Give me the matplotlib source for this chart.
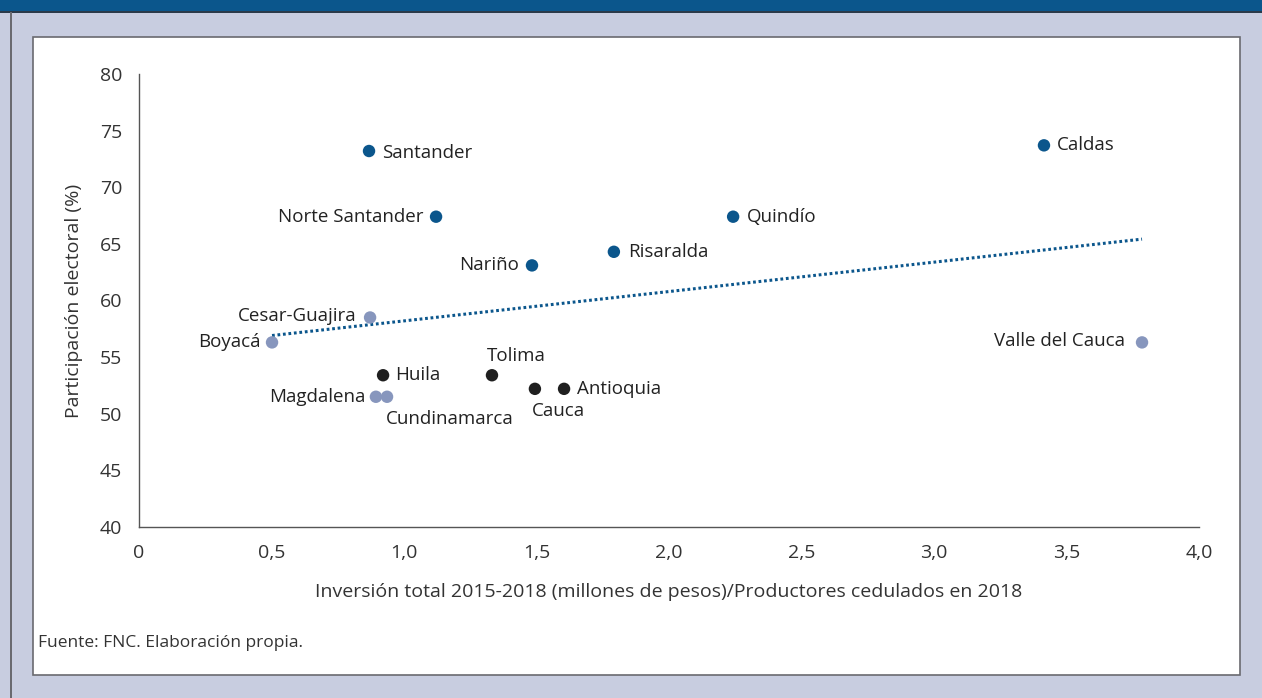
import numpy as np
import matplotlib.pyplot as plt
from matplotlib.patches import Rectangle

plt.rcParams["font.family"] = ["Open Sans", "DejaVu Sans"]

# data
departments = ["Santander", "Caldas", "Norte Santander", "Quindío", "Risaralda",
               "Nariño", "Cesar-Guajira", "Boyacá", "Valle del Cauca", "Huila",
               "Tolima", "Antioquia", "Cauca", "Magdalena", "Cundinamarca"]
inversion = [0.868, 3.415, 1.121, 2.242, 1.792, 1.483, 0.872, 0.502, 3.785,
             0.921, 1.332, 1.604, 1.494, 0.894, 0.936]
participacion = [73.2, 73.7, 67.4, 67.4, 64.3, 63.1, 58.5, 56.3, 56.3,
                 53.4, 53.4, 52.2, 52.2, 51.5, 51.5]
group = ["alta", "alta", "alta", "alta", "alta", "alta", "media", "media", "media",
         "baja", "baja", "baja", "baja", "media", "media"]

colors = {"alta": "#0b568c", "media": "#8796bd", "baja": "#1f1f1f"}

# label placement (offset in pixels, alignment)
label_pos = {
    "Santander": (13, -2, "left"), "Caldas": (13, 0, "left"),
    "Norte Santander": (-13, 0, "right"), "Quindío": (14, 0, "left"),
    "Risaralda": (14, 0, "left"), "Nariño": (-13, 0, "right"),
    "Cesar-Guajira": (-14, 1, "right"), "Boyacá": (-11, 0, "right"),
    "Valle del Cauca": (-17, 1, "right"), "Huila": (12, 0, "left"),
    "Tolima": (24, 19, "center"), "Antioquia": (13, 0, "left"),
    "Cauca": (24, -22, "center"), "Magdalena": (-10, 0, "right"),
    "Cundinamarca": (63, -22, "center"),
}

fig = plt.figure(figsize=(12.62, 6.98), dpi=100)
fig.patch.set_facecolor("#c8cde0")

W, H = 1262, 698
def fr(x0, y0, x1, y1, **kw):
    fig.patches.append(Rectangle((x0 / W, 1 - y1 / H), (x1 - x0) / W, (y1 - y0) / H,
                                 transform=fig.transFigure, zorder=-10, **kw))

fr(0, 0, W, 12, facecolor="#0b568c", edgecolor="none")
fr(0, 11, W, 13, facecolor="#2b3a4a", edgecolor="none")
fr(10, 12, 12, H, facecolor="#6a6a70", edgecolor="none")
fr(33, 37, 1240, 675, facecolor="white", edgecolor="#6a6a70", linewidth=1.2)

ax = fig.add_axes([139 / W, 1 - 527 / H, (1199 - 139) / W, (527 - 74) / H])
ax.set_facecolor("none")

# linear trend through all departments
x = np.array(inversion)
y = np.array(participacion)
slope, intercept = np.polyfit(x, y, 1)
xt = np.array([x.min(), x.max()])
ax.plot(xt, slope * xt + intercept, color="#0b568c", lw=2.2,
        linestyle=(0, (0.9, 0.9)), zorder=2)

ax.scatter(x, y, s=80, c=[colors[g] for g in group], zorder=3, linewidths=0)

for name, xi, yi in zip(departments, inversion, participacion):
    dx, dy, ha = label_pos[name]
    ax.annotate(name, (xi, yi), xytext=(dx, dy), textcoords="offset pixels",
                ha=ha, va="center", fontsize=13.5, color="#222222")

ax.set_xlim(0, 4)
ax.set_ylim(40, 80)
ax.set_xticks(np.arange(0, 4.01, 0.5))
ax.set_xticklabels(["0", "0,5", "1,0", "1,5", "2,0", "2,5", "3,0", "3,5", "4,0"])
ax.set_yticks(np.arange(40, 81, 5))
ax.tick_params(length=0, labelsize=14, labelcolor="#333333", pad=12)
ax.tick_params(axis="x", pad=12)
for s in ["top", "right"]:
    ax.spines[s].set_visible(False)
for s in ["left", "bottom"]:
    ax.spines[s].set_color("#555555")
    ax.spines[s].set_linewidth(1.0)

ax.set_xlabel("Inversión total 2015-2018 (millones de pesos)/Productores cedulados en 2018",
              fontsize=14, color="#333333", va="center")
ax.xaxis.set_label_coords(0.5, (527 - 592) / 453)
ax.set_ylabel("Participación electoral (%)", fontsize=14, color="#333333", va="center")
ax.yaxis.set_label_coords((74 - 139) / 1060, 0.5)

fig.text(38 / W, 1 - 643 / H, "Fuente: FNC. Elaboración propia.", fontsize=12.5,
         color="#333333", va="center", ha="left")

fig.savefig("out.png", dpi=100)
